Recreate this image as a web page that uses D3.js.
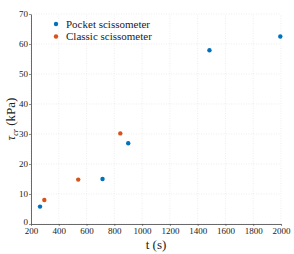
<!DOCTYPE html>
<meta charset="utf-8">
<head>
  <script src="https://d3js.org/d3.v7.min.js"></script>
  <style>
    body { margin: 0; background: #fff; }
  </style>
</head>
<body>
<script>
// data
const pocketT = [265, 715, 900, 1485, 1995];
const pocketTau = [5.8, 15, 26.9, 57.9, 62.5];
const classicT = [296, 540, 843];
const classicTau = [8, 14.8, 30.2];
const xTicks = [200, 400, 600, 800, 1000, 1200, 1400, 1600, 1800, 2000];
const yTicks = [0, 10, 20, 30, 40, 50, 60, 70];
const seriesNames = ["Pocket scissometer", "Classic scissometer"];
const seriesColors = ["#0072BD", "#D95319"];

const W = 294, H = 254;
const margin = {top: 14, right: 13, bottom: 30, left: 31};
const serif = '"Liberation Serif", "DejaVu Serif", serif';

const svg = d3.select("body").append("svg")
  .attr("width", W).attr("height", H)
  .style("font-family", serif);

const x = d3.scaleLinear().domain([200, 2000]).range([margin.left, W - margin.right]);
const y = d3.scaleLinear().domain([0, 70]).range([H - margin.bottom, margin.top]);

// grid
svg.append("g").selectAll("line").data(xTicks).join("line")
  .attr("x1", d => x(d)).attr("x2", d => x(d))
  .attr("y1", y(0)).attr("y2", y(70))
  .attr("stroke", "#e2e2e2").attr("stroke-width", 0.6).attr("stroke-dasharray", "1,1.5");
svg.append("g").selectAll("line").data(yTicks).join("line")
  .attr("x1", x(200)).attr("x2", x(2000))
  .attr("y1", d => y(d)).attr("y2", d => y(d))
  .attr("stroke", "#e2e2e2").attr("stroke-width", 0.6).attr("stroke-dasharray", "1,1.5");

// axes
const xAxis = svg.append("g")
  .attr("transform", `translate(0,${y(0)})`)
  .call(d3.axisBottom(x).tickValues(xTicks).tickFormat(d3.format("d"))
    .tickSize(2).tickSizeOuter(0).tickPadding(1.5));
const yAxis = svg.append("g")
  .attr("transform", `translate(${x(200)},0)`)
  .call(d3.axisLeft(y).tickValues(yTicks).tickFormat(d3.format("d"))
    .tickSize(2).tickSizeOuter(0).tickPadding(1));
[xAxis, yAxis].forEach(g => {
  g.attr("font-family", serif);
  g.select(".domain").attr("stroke", "#444").attr("stroke-width", 0.8);
  g.selectAll(".tick line").attr("stroke", "#444").attr("stroke-width", 0.6);
  g.selectAll("text").style("font-family", serif)
    .style("font-size", "9px").attr("fill", "#222");
});
yAxis.selectAll(".tick").filter(d => d === 0).select("text").attr("dy", "0.1em");

// axis labels
svg.append("text")
  .attr("x", (x(200) + x(2000)) / 2).attr("y", 249)
  .attr("text-anchor", "middle")
  .style("font-family", serif).style("font-size", "13px").attr("fill", "#222")
  .text("t (s)");
const yl = svg.append("text")
  .attr("transform", `translate(15,${(y(0) + y(70)) / 2}) rotate(-90)`)
  .attr("text-anchor", "middle")
  .style("font-family", serif).style("font-size", "13px").attr("fill", "#222");
yl.append("tspan").style("font-style", "italic").text("τ");
yl.append("tspan").attr("dy", 3).style("font-size", "8px").style("font-style", "italic").text("cr");
yl.append("tspan").attr("dy", -3).text(" (kPa)");

// points
const series = [
  {t: pocketT, tau: pocketTau},
  {t: classicT, tau: classicTau}
];
series.forEach((s, i) => {
  svg.append("g").selectAll("circle").data(s.t).join("circle")
    .attr("cx", d => x(d)).attr("cy", (d, j) => y(s.tau[j]))
    .attr("r", 2.2).attr("fill", seriesColors[i]);
});

// legend
const leg = svg.append("g").attr("transform", "translate(56,24)");
seriesNames.forEach((n, i) => {
  const row = leg.append("g").attr("transform", `translate(0,${i * 12.5})`);
  row.append("circle").attr("r", 2.2).attr("fill", seriesColors[i]);
  row.append("text").attr("x", 10).attr("dy", "0.35em")
    .style("font-family", serif).style("font-size", "11px").attr("fill", "#222")
    .text(n);
});
</script>
</body>
</html>
